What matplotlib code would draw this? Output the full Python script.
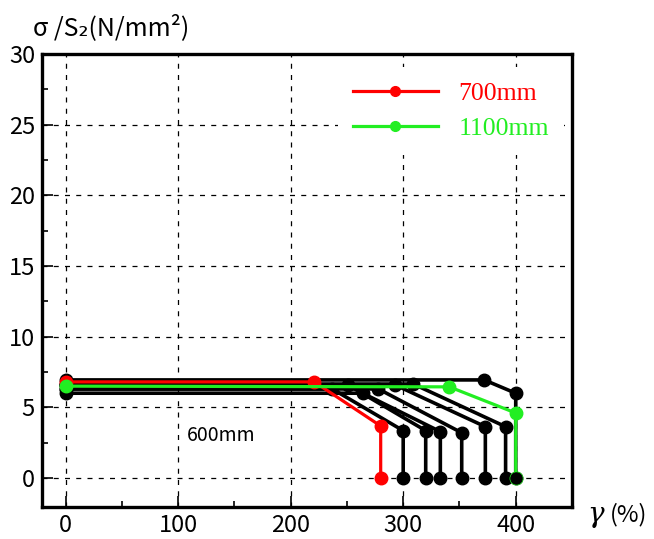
import matplotlib
matplotlib.use("Agg")
import matplotlib.pyplot as plt

plt.rcParams['font.family'] = ['Noto Sans CJK JP', 'DejaVu Sans']

# strain (%) / stress (N/mm2) curves, 600mm group in black
black_x = [
    [0, 237, 300, 300],
    [0, 251, 320, 320],
    [0, 264, 333, 333],
    [0, 278, 352, 352],
    [0, 293, 373, 373],
    [0, 309, 391, 391],
    [0, 372, 400, 400],
]
black_y = [
    [6.3, 6.3, 3.35, 0],
    [6.58, 6.58, 3.35, 0],
    [6.0, 6.0, 3.28, 0],
    [6.3, 6.3, 3.2, 0],
    [6.58, 6.58, 3.63, 0],
    [6.65, 6.65, 3.63, 0],
    [6.94, 6.94, 6.0, 0],
]

red_x = [0, 221, 280, 280]
red_y = [6.8, 6.8, 3.68, 0]

green_x = [0, 341, 400, 400]
green_y = [6.5, 6.45, 4.6, 0]

xticks = [0, 100, 200, 300, 400]
yticks = [0, 5, 10, 15, 20, 25, 30]

fig = plt.figure(figsize=(6.54, 5.39), dpi=100)
ax = fig.add_axes([0.0642, 0.0594, 0.8104, 0.8404])

for xs, ys in zip(black_x, black_y):
    ax.plot(xs, ys, color='black', lw=2.6, marker='o', ms=9, zorder=3)
ax.plot(red_x, red_y, color='#ff0000', lw=2.3, marker='o', ms=9, zorder=4, label='700mm')
ax.plot(green_x, green_y, color='#22ee22', lw=2.3, marker='o', ms=9, zorder=4, label='1100mm')
# last black end point sits on top of the green one
ax.plot(black_x[-1][-1:], black_y[-1][-1:], color='black', marker='o', ms=8, ls='none', zorder=5)

ax.text(108, 3.0, '600mm', fontsize=14, va='center', ha='left')

ax.set_xlim(-21, 450)
ax.set_ylim(-2.05, 30)
ax.set_xticks(xticks)
ax.set_yticks(yticks)
ax.set_xticks([50, 150, 250, 350], minor=True)
ax.set_yticks([2.5, 7.5, 12.5, 17.5, 22.5, 27.5], minor=True)
ax.tick_params(which='major', direction='in', length=8, width=1.2, labelsize=17, pad=5)
ax.tick_params(which='minor', direction='in', length=4, width=1.2)
ax.grid(True, which='major', color='black', linestyle=(0, (4, 5)), linewidth=0.9)

for s in ax.spines.values():
    s.set_linewidth(2.4)

leg = ax.legend(loc='upper right', bbox_to_anchor=(1.0, 0.989),
                prop={'family': 'Liberation Serif', 'size': 18.5},
                handlelength=3.3, labelcolor='linecolor', fancybox=False,
                framealpha=1, edgecolor='none', borderpad=0.6, labelspacing=0.45,
                borderaxespad=0.3)
for h in leg.legend_handles:
    h.set_markersize(7)

# thin border on the right where the legend sits
ax.plot([1, 1], [0.78, 1], transform=ax.transAxes, color='black', lw=1.0,
        clip_on=False, zorder=6)

fig.text(0.05, 0.935, 'σ /S₂(N/mm²)', fontsize=18, ha='left', va='baseline')
fig.text(0.898, 0.032, 'γ', fontsize=20, style='italic', family='DejaVu Serif', ha='left', va='baseline')
fig.text(0.933, 0.032, '(%)', fontsize=17, ha='left', va='baseline')

fig.savefig('out.png', dpi=100)
